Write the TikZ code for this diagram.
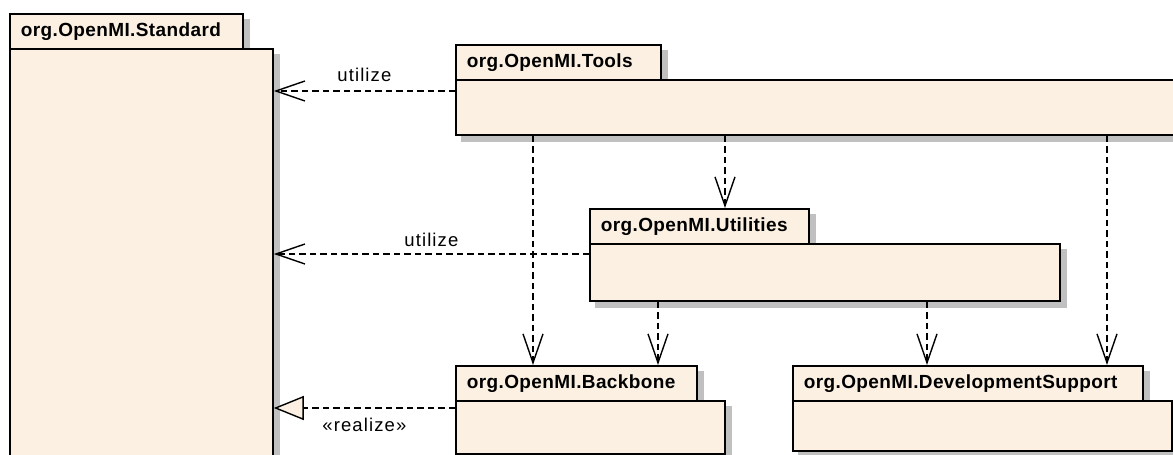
\documentclass[tikz,border=0pt]{standalone}
\usepackage{fontspec}
\setmainfont{Liberation Sans}
\newfontfamily\tabfont[LetterSpace=2]{Liberation Sans}
\newfontfamily\lblfont[LetterSpace=6]{Liberation Sans}
\usetikzlibrary{arrows.meta,calc,backgrounds}
\definecolor{pkgfill}{HTML}{FBF0E2}
\definecolor{shadegray}{HTML}{C0C0C0}
\tikzset{
  pkgbase/.style={draw=black, line width=1.8pt, fill=pkgfill, anchor=north west},
  pkgtab/.style={pkgbase, inner xsep=11pt, inner ysep=0pt, align=left, minimum height=35pt,
    font=\tabfont\bfseries\fontsize{19}{21}\selectfont},
  pkgbody/.style={pkgbase, inner sep=0pt},
  shadow/.style={fill=shadegray},
  dep/.style={draw=black, line width=1.4pt, dash pattern=on 6.5pt off 4pt,
    -{Straight Barb[length=29pt, width=20pt, line width=1.4pt]}},
  real/.style={draw=black, line width=1.4pt, dash pattern=on 6.5pt off 4pt,
    -{Triangle[length=30pt, width=24pt, fill=pkgfill, line width=1.4pt]}},
  lbl/.style={font=\lblfont\fontsize{18.5}{20}\selectfont, inner sep=0pt}
}
\begin{document}
\begin{tikzpicture}[x=1pt, y=-1pt]
\useasboundingbox (0,0) rectangle (1173,455);
\clip (0,0) rectangle (1173,455);

% Standard
\node[pkgtab, text width=211pt] (stdtab) at (9,13) {org.OpenMI.Standard};
\node[pkgbody, minimum width=263pt, minimum height=440pt] (stdbody) at (9,48) {};

% Tools
\node[pkgtab, text width=183pt] (tooltab) at (455,44) {org.OpenMI.Tools};
\node[pkgbody, minimum width=740pt, minimum height=55pt] (toolbody) at (455,79) {};

% Utilities
\node[pkgtab, text width=197pt] (utiltab) at (589,208) {org.OpenMI.Utilities};
\node[pkgbody, minimum width=470pt, minimum height=57pt] (utilbody) at (589,243) {};

% Backbone
\node[pkgtab, text width=219pt] (bbtab) at (455,365) {org.OpenMI.Backbone};
\node[pkgbody, minimum width=269pt, minimum height=53pt] (bbbody) at (455,400) {};

% DevelopmentSupport
\node[pkgtab, text width=328pt] (devtab) at (792,365) {org.OpenMI.DevelopmentSupport};
\node[pkgbody, minimum width=379pt, minimum height=50pt] (devbody) at (792,400) {};

% shadows
\begin{scope}[on background layer]
  \foreach \n in {stdtab,stdbody,tooltab,toolbody,utiltab,utilbody,bbtab,bbbody,devtab,devbody}
    \fill[shadow] ([shift={(6pt,-6pt)}]\n.south west) rectangle ([shift={(6pt,-6pt)}]\n.north east);
\end{scope}

% connector anchor points
\coordinate (t1) at ([yshift=-12pt]toolbody.north west);
\coordinate (t2) at ([yshift=-11pt]utilbody.north west);
\coordinate (t3) at ([yshift=-8pt]bbbody.north west);
\coordinate (h1) at ([xshift=78pt]bbtab.north west);
\coordinate (h2) at ([xshift=136pt]utiltab.north west);
\coordinate (h3) at ([xshift=315pt]devtab.north west);
\coordinate (h4) at ([xshift=203pt]bbtab.north west);
\coordinate (h5) at ([xshift=135pt]devtab.north west);

% horizontal dependencies
\draw[dep] (t1) -- (stdbody.east |- t1) node[lbl, midway, above=9pt] {utilize};
\draw[dep] (t2) -- (stdbody.east |- t2) node[lbl, midway, above=7pt] {utilize};
\draw[real] (t3) -- (stdbody.east |- t3) node[lbl, midway, below=9pt] {«realize»};

% vertical dependencies
\draw[dep] (toolbody.south -| h1) -- (h1);
\draw[dep] (toolbody.south -| h2) -- (h2);
\draw[dep] (toolbody.south -| h3) -- (h3);
\draw[dep] (utilbody.south -| h4) -- (h4);
\draw[dep] (utilbody.south -| h5) -- (h5);
\end{tikzpicture}
\end{document}
